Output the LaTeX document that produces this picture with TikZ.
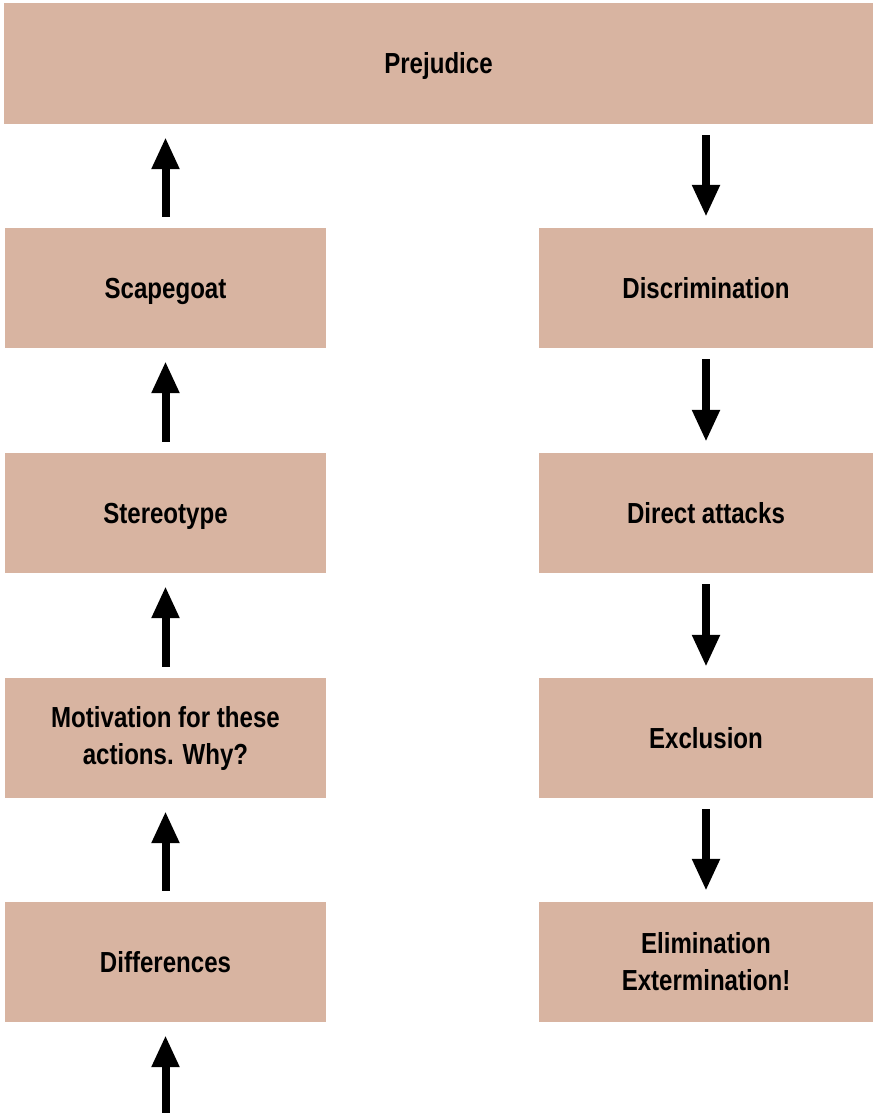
\documentclass[tikz,border=0pt]{standalone}
\usepackage{fontspec}
\setmainfont{Liberation Sans}[FakeStretch=0.83]
\usetikzlibrary{arrows.meta}
\definecolor{boxfill}{RGB}{216,180,161}
\tikzset{
  x=1pt, y=-1pt,
  card/.style={fill=boxfill, draw=none, inner sep=0pt, align=center,
    font=\fontsize{29}{37}\selectfont\bfseries},
  oneline/.style={text height=20.8pt, text depth=0pt},
  leftcard/.style={card, minimum width=321pt, minimum height=120pt},
  rightcard/.style={card, minimum width=334pt, minimum height=120pt},
  flow/.style={line width=8pt, -{Triangle[length=32pt,width=26pt]}}
}
\begin{document}
\begin{tikzpicture}
\useasboundingbox (0,0) rectangle (873,1113);
\node[card, oneline, minimum width=869pt, minimum height=121pt] (prej) at (438.5,63.5) {Prejudice};
\node[leftcard, oneline] (scape) at (165.5,288) {Scapegoat};
\node[leftcard, oneline] (stereo) at (165.5,513) {Stereotype};
\node[leftcard] (motiv) at (165.5,738) {Motivation for these\\actions. Why?};
\node[leftcard, oneline] (diff) at (165.5,962) {Differences};
\node[rightcard, oneline] (discr) at (706,288) {Discrimination};
\node[rightcard, oneline] (attack) at (706,513) {Direct attacks};
\node[rightcard, oneline] (excl) at (706,738) {Exclusion};
\node[rightcard] (elim) at (706,962) {Elimination\\Extermination!};
\coordinate (start) at (165.5,1113);
% left column, upward
\draw[flow, shorten >=13pt] (start) -- (diff.south);
\draw[flow, shorten <=11pt, shorten >=13pt] (diff.north) -- (motiv.south);
\draw[flow, shorten <=11pt, shorten >=13pt] (motiv.north) -- (stereo.south);
\draw[flow, shorten <=11pt, shorten >=13pt] (stereo.north) -- (scape.south);
\draw[flow, shorten <=11pt, shorten >=13pt] (scape.north) -- (scape.north |- prej.south);
% right column, downward
\draw[flow, shorten <=11pt, shorten >=11pt] (discr.north |- prej.south) -- (discr.north);
\draw[flow, shorten <=11pt, shorten >=11pt] (discr.south) -- (attack.north);
\draw[flow, shorten <=11pt, shorten >=11pt] (attack.south) -- (excl.north);
\draw[flow, shorten <=11pt, shorten >=11pt] (excl.south) -- (elim.north);
\end{tikzpicture}
\end{document}
